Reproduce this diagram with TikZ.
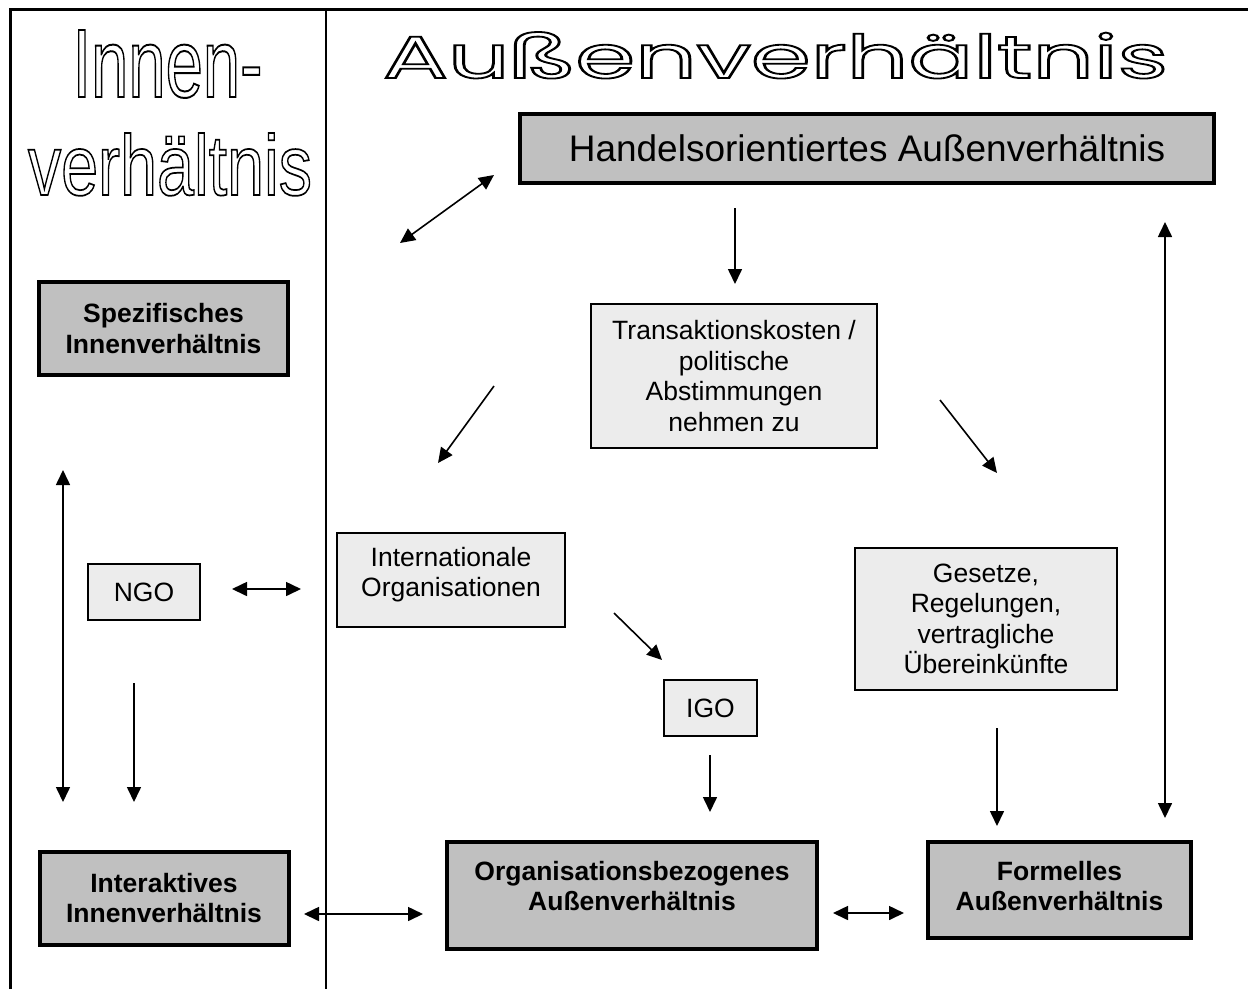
\documentclass[tikz,border=0pt]{standalone}
\usepackage{fontspec}
\setmainfont{Liberation Sans}
\newfontfamily\breitfont{Poppins}
\usepackage{graphicx}
\usetikzlibrary{arrows.meta}
\definecolor{kastenGrau}{RGB}{192,192,192}
\definecolor{feldGrau}  {RGB}{236,236,236}

\newcommand{\umriss}[1]{\special{pdf:literal direct 1 Tr 1.8 w}#1\special{pdf:literal direct 0 Tr}}

\tikzset{
  hauptbox/.style={draw,line width=4pt,fill=kastenGrau,align=center,inner sep=0pt,
                   font=\bfseries\fontsize{26.5}{30.5}\selectfont},
  nebenbox/.style={draw,line width=1.5pt,fill=feldGrau,align=center,inner sep=0pt,
                   font=\fontsize{26.5}{30.5}\selectfont},
  pfeil/.style={-{Triangle[length=15pt,width=14pt]},line width=1.6pt},
  doppelpfeil/.style={{Triangle[length=15pt,width=14pt]}-{Triangle[length=15pt,width=14pt]},line width=1.6pt},
}

\begin{document}
\begin{tikzpicture}[x=1pt,y=-1pt]
        \useasboundingbox (0,0) rectangle (1248,989);
        % Rahmen
        \draw[line width=3pt] (10,989)--(10,9)--(1248,9);
        \draw[line width=1.5pt] (326,11)--(326,989);
        % Ueberschriften
        \node[anchor=base,inner sep=0pt,font=\fontsize{90}{90}\selectfont] (innen) at (167.5,97)
          {\resizebox{190pt}{67pt}{\umriss{Innen-}}};
        \node[anchor=base,inner sep=0pt,font=\fontsize{90}{90}\selectfont] (verh) at (170,195)
          {\resizebox{284pt}{62pt}{\umriss{verhältnis}}};
        \node[anchor=base,inner sep=0pt,font=\breitfont\fontsize{60}{60}\selectfont] (aussen) at (775.5,78)
          {\resizebox{785pt}{46pt}{\umriss{Außenverhältnis}}};
        % Hauptkaesten
        \node[hauptbox,minimum width=694pt,minimum height=69pt,font=\fontsize{37}{42}\selectfont]
          (handel) at (867,148.5) {Handelsorientiertes Außenverhältnis};
        \node[hauptbox,minimum width=249pt,minimum height=93pt]
          (spezifisch) at (163.5,328.5) {Spezifisches\\Innenverhältnis};
        \node[hauptbox,minimum width=249pt,minimum height=93pt]
          (interaktiv) at (164,898) {Interaktives\\Innenverhältnis};
        \node[hauptbox,minimum width=370pt,minimum height=107pt,text depth=19pt]
          (orgbezogen) at (632,895.5) {Organisationsbezogenes\\Außenverhältnis};
        \node[hauptbox,minimum width=263pt,minimum height=96pt,text depth=8pt]
          (formell) at (1059.5,890) {Formelles\\Außenverhältnis};
        % Nebenkaesten
        \node[nebenbox,minimum width=286pt,minimum height=144pt]
          (transaktion) at (734,376) {Transaktionskosten /\\politische\\Abstimmungen\\nehmen zu};
        \node[nebenbox,minimum width=228pt,minimum height=94pt,text depth=16pt]
          (intorg) at (451,580) {Internationale\\Organisationen};
        \node[nebenbox,minimum width=112pt,minimum height=56pt]
          (ngo) at (144,592) {NGO};
        \node[nebenbox,minimum width=262pt,minimum height=142pt]
          (gesetze) at (986,619) {Gesetze,\\Regelungen,\\vertragliche\\Übereinkünfte};
        \node[nebenbox,minimum width=93pt,minimum height=56pt]
          (igo) at (710.5,708) {IGO};
        % Pfeilenden
        \coordinate (hA) at (400,243);  \coordinate (hB) at (494,175);
        \coordinate (tA) at (735,208);  \coordinate (tB) at (735,284);
        \coordinate (lA) at (494,386);  \coordinate (lB) at (438,463);
        \coordinate (rA) at (940,400);  \coordinate (rB) at (997,473);
        \coordinate (fA) at (1165,222); \coordinate (fB) at (1165,818);
        \coordinate (gA) at (997,728);  \coordinate (gB) at (997,826);
        \coordinate (iA) at (614,613);  \coordinate (iB) at (662,660);
        \coordinate (oA) at (710,755);  \coordinate (oB) at (710,812);
        \coordinate (nA) at (232,589);  \coordinate (nB) at (301,589);
        \coordinate (sA) at (63,470);   \coordinate (sB) at (63,802);
        \coordinate (kA) at (134,683);  \coordinate (kB) at (134,802);
        \coordinate (uA) at (304,914);  \coordinate (uB) at (423,914);
        \coordinate (vA) at (833,913);  \coordinate (vB) at (904,913);
        % Pfeile
        \draw[doppelpfeil] (hA)--(hB);
        \draw[pfeil] (tA)--(tB);
        \draw[pfeil] (lA)--(lB);
        \draw[pfeil] (rA)--(rB);
        \draw[doppelpfeil] (fA)--(fB);
        \draw[pfeil] (gA)--(gB);
        \draw[pfeil] (iA)--(iB);
        \draw[pfeil] (oA)--(oB);
        \draw[doppelpfeil] (nA)--(nB);
        \draw[doppelpfeil] (sA)--(sB);
        \draw[pfeil] (kA)--(kB);
        \draw[doppelpfeil] (uA)--(uB);
        \draw[doppelpfeil] (vA)--(vB);
      \end{tikzpicture}
\end{document}
